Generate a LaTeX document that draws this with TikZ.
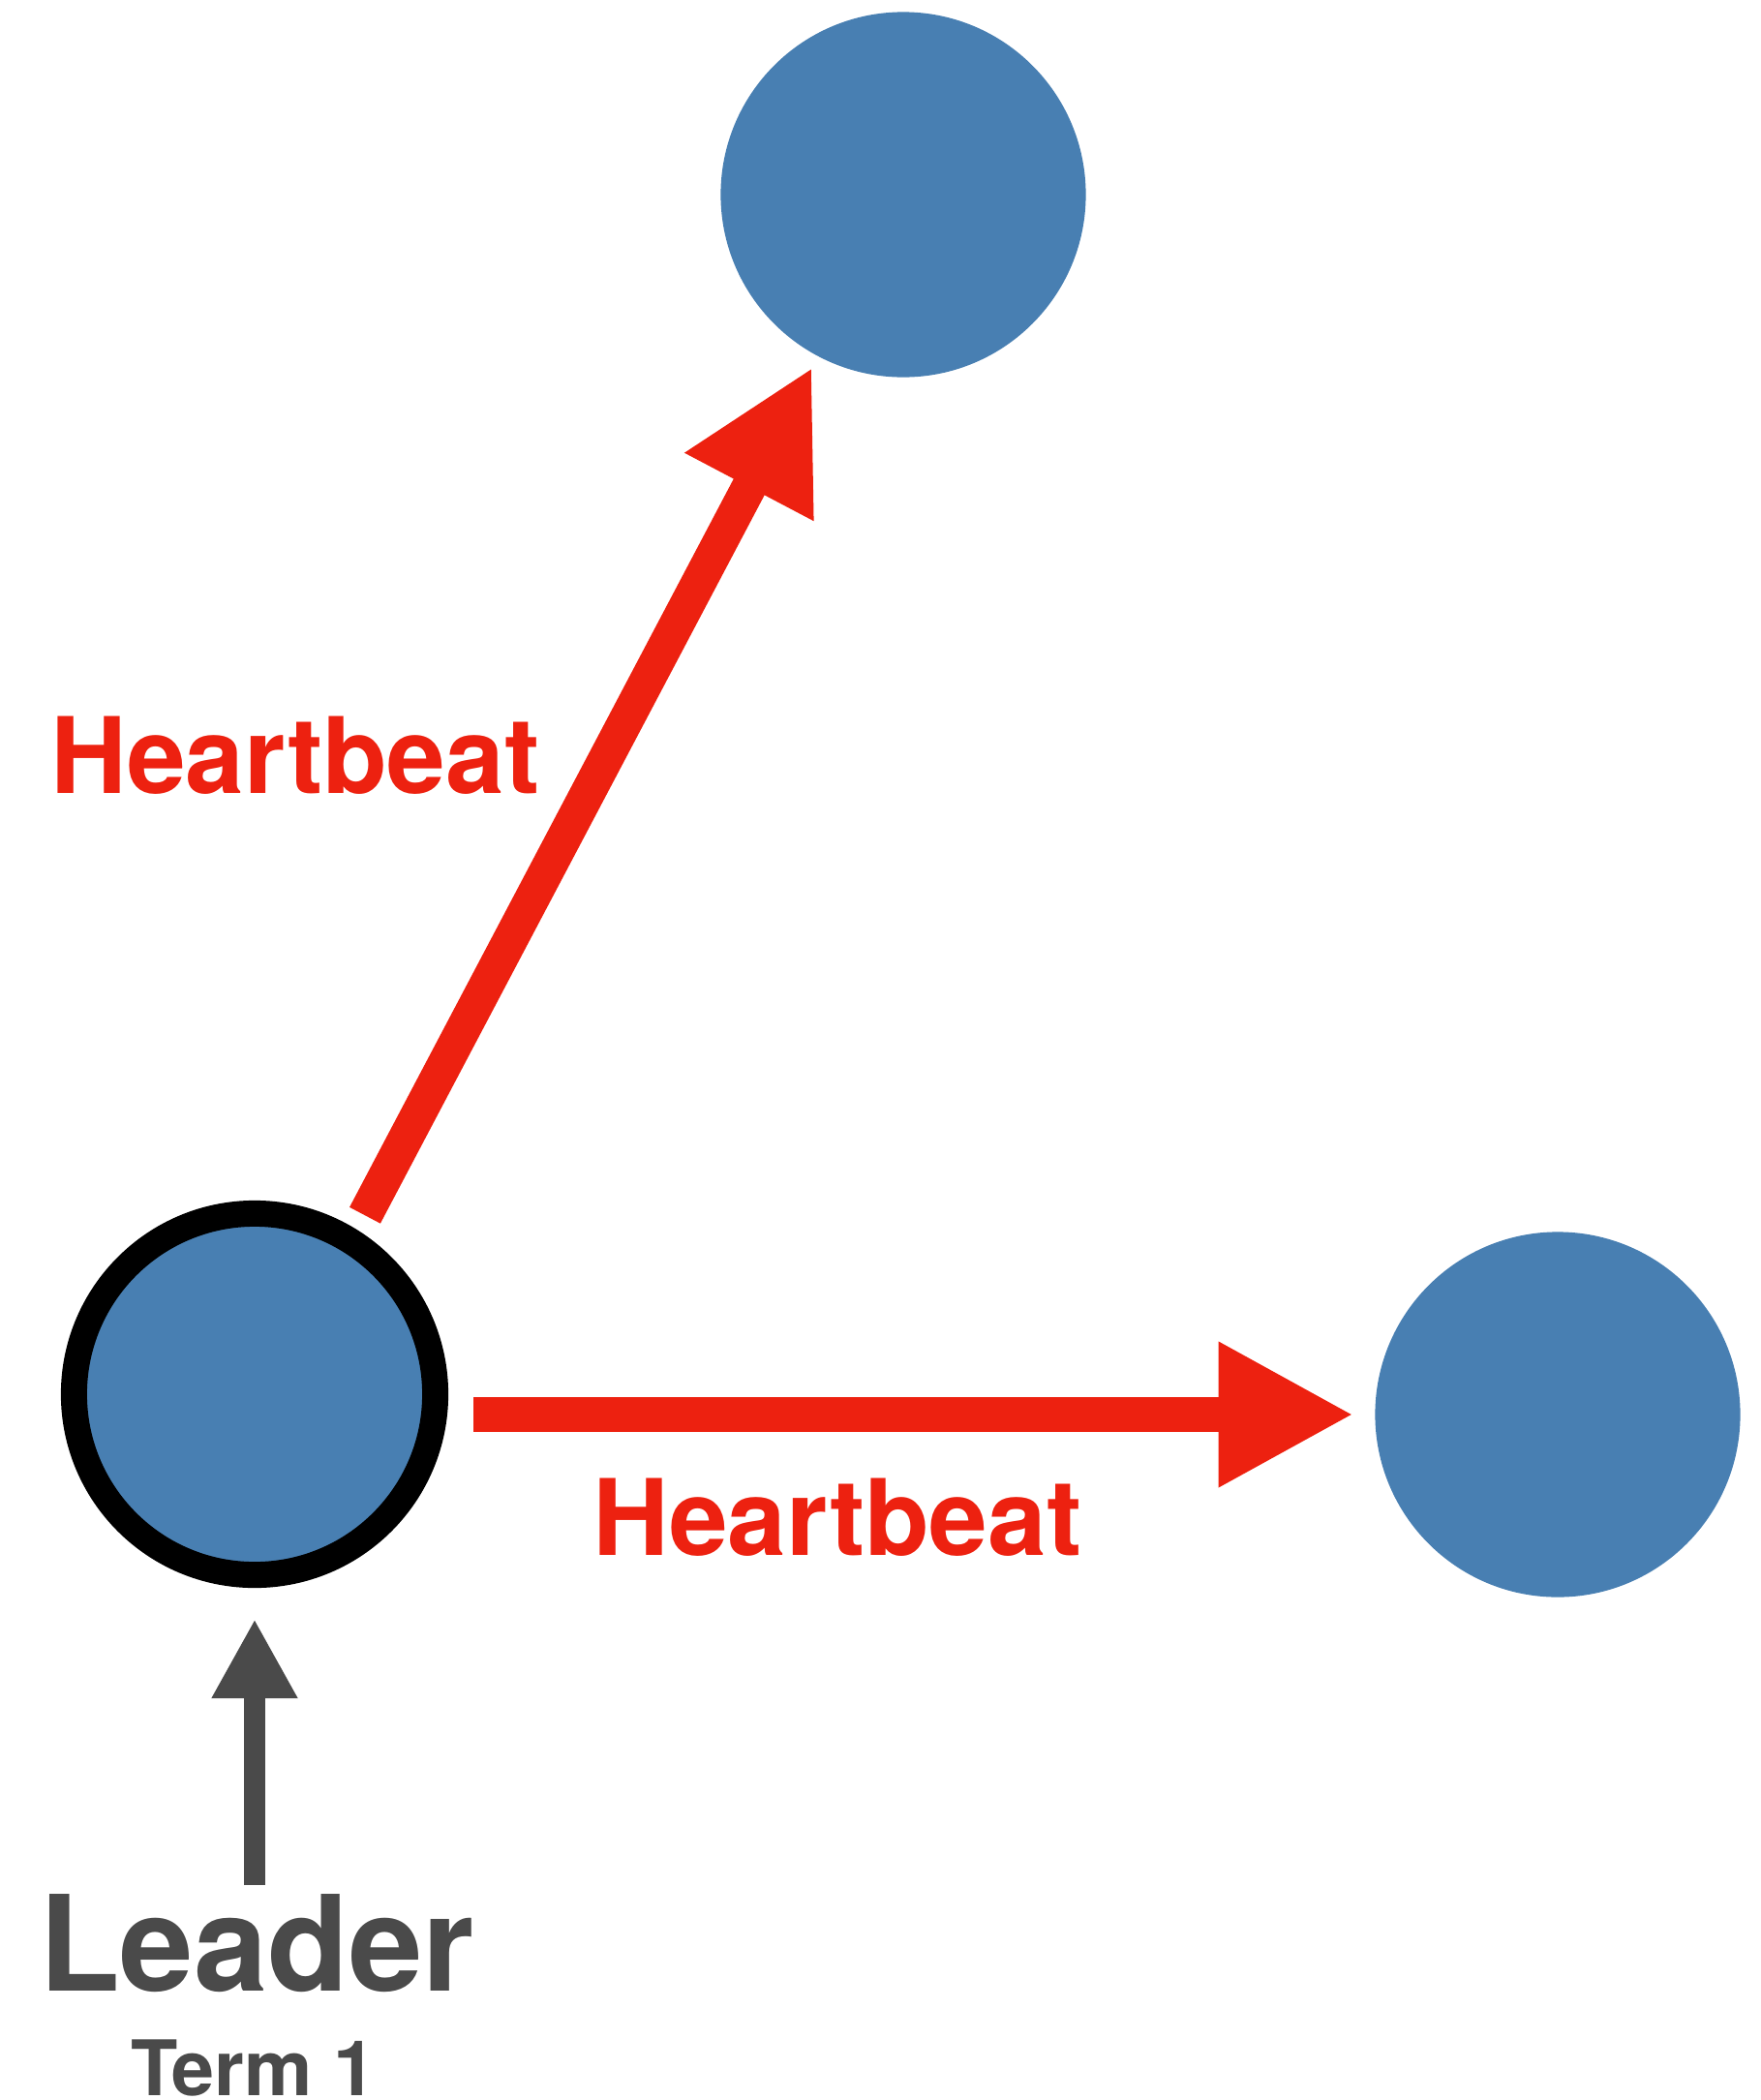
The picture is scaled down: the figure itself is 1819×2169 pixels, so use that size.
\documentclass[tikz,border=0pt]{standalone}
\usepackage{fontspec}
\setmainfont{TeX Gyre Heros}
\usetikzlibrary{arrows.meta}

\definecolor{nodeblue}{RGB}{72,127,178}
\definecolor{beatred}{RGB}{237,33,16}
\definecolor{leadgray}{RGB}{74,74,74}

\begin{document}
\begin{tikzpicture}[x=0.01cm,y=-0.01cm,
    server/.style={circle,fill=nodeblue,inner sep=0pt,minimum size=3.77cm},
    beat/.style={-{Triangle[length=1.4cm,width=1.4cm]},line width=0.36cm,draw=beatred},
    beattext/.style={anchor=base,inner sep=0pt,text=beatred,font=\fontsize{31pt}{36pt}\selectfont\bfseries}]
\useasboundingbox (0,0) rectangle (1819,2169);

% the three servers, the leader has a black ring
\node[server,draw=black,line width=0.27cm,minimum size=3.73cm] (leader) at (263,1440) {};
\node[server] (f1) at (933,201) {};
\node[server] (f2) at (1609,1461) {};

% heartbeats sent out by the leader
\draw[beat,shorten <=0.17cm,shorten >=0.12cm](leader.58)--(f1);
\draw[beat,shorten <=0.26cm,shorten >=0.21cm](leader.east |- f2)--(f2);
\node[beattext] (hb1) at (305,819) {Heartbeat};
\node[beattext] (hb2) at (865,1606) {Heartbeat};

% leader label
\coordinate (foot) at (263,1947);
\draw[-{Triangle[length=0.82cm,width=0.83cm]},line width=0.21cm,draw=leadgray,shorten >=0.32cm](foot)--(leader);
\node[anchor=base,inner sep=0pt,text=leadgray,font=\fontsize{39pt}{44pt}\selectfont\bfseries] (lead) at (265,2056) {Leader};
\node[anchor=base,inner sep=0pt,text=leadgray,font=\fontsize{22.5pt}{26pt}\selectfont\bfseries] (term) at (262,2164) {Term 1};
\end{tikzpicture}
\end{document}
